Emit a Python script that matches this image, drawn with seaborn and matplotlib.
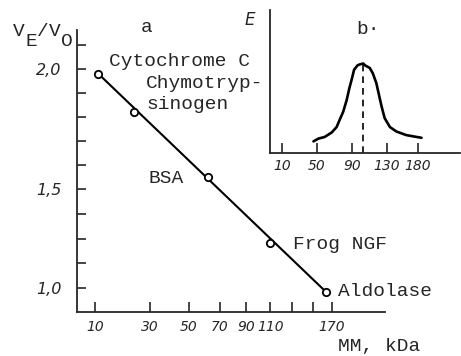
import numpy as np
import matplotlib
matplotlib.use('Agg')
import matplotlib.pyplot as plt
import seaborn as sns

# panel a: calibration proteins
proteins = ['Cytochrome C', 'Chymotryp-\nsinogen', 'BSA', 'Frog NGF', 'Aldolase']
mm_kda = [11, 23, 62, 110, 164]
ve_vo = [1.98, 1.82, 1.55, 1.23, 0.98]

# panel b: elution profile
prof_mm = [46, 51.5, 59, 67, 72.5, 76, 80, 84, 87, 90, 92.5, 96.5, 99, 103,
           105, 110.5, 114, 118, 121, 124, 127.5, 135, 145.5, 161.5, 177.5, 186]
prof_e = [0.13, 0.16, 0.18, 0.23, 0.29, 0.37, 0.46, 0.59, 0.72, 0.83, 0.93,
          0.98, 0.99, 1.0, 0.98, 0.95, 0.89, 0.78, 0.65, 0.52, 0.39, 0.29,
          0.24, 0.20, 0.18, 0.17]
peak_mm = 103

a_xticks = [10, 30, 50, 70, 90, 110, 130, 150, 170]
a_xlabels = ['10', '30', '50', '70', '90', '110', '', '', '170']
a_yticks = [2.1, 2.0, 1.9, 1.8, 1.7, 1.6, 1.5, 1.375, 1.25, 1.125, 1.0]
a_ylabels = ['', '2,0', '', '', '', '', '1,5', '', '', '', '1,0']
b_xticks = [10, 50, 90, 130, 180]
b_xlabels = ['10', '50', '90', '130', '180']

sns.set_style('ticks')
plt.rcParams['font.family'] = ['DejaVu Sans']
MONO = 'Liberation Mono'


# axis scales as drawn in the original (sqrt MM, uneven V/V0 spacing)
def sq_fwd(x):
    return np.sqrt(np.clip(np.asarray(x, float), 0, None))


def sq_inv(v):
    return np.square(v)


def ya_fwd(y):
    y = np.asarray(y, float)
    return np.where(y >= 1.5, y, 1.5 - (1.5 - y) * 0.825)


def ya_inv(v):
    v = np.asarray(v, float)
    return np.where(v >= 1.5, v, 1.5 - (1.5 - v) / 0.825)


def xb_fwd(x):
    x = np.asarray(x, float)
    return np.where(x <= 130, x, 130 + (x - 130) * 0.709)


def xb_inv(v):
    v = np.asarray(v, float)
    return np.where(v <= 130, v, 130 + (v - 130) / 0.709)


fig = plt.figure(figsize=(4.61, 3.56), dpi=100)

# ---- panel a
ax = fig.add_axes([0.167, 0.1236, 0.668, 0.792])
sns.lineplot(x=[mm_kda[0], mm_kda[-1]], y=[ve_vo[0], ve_vo[-1]], ax=ax,
             color='black', linewidth=1.5)
sns.scatterplot(x=mm_kda, y=ve_vo, ax=ax, marker='o', s=28, facecolor='white',
                edgecolor='black', linewidth=1.3, zorder=3)
ax.set_xscale('function', functions=(sq_fwd, sq_inv))
ax.set_yscale('function', functions=(ya_fwd, ya_inv))
ax.set_xlim(5.87, 232.8)
ax.set_ylim(0.879, 2.1625)
ax.set_xticks(a_xticks)
ax.set_xticklabels(a_xlabels, fontstyle='italic', fontsize=10)
ax.set_yticks(a_yticks)
ax.set_yticklabels(a_ylabels, fontstyle='italic', fontsize=11.5)
ax.minorticks_off()
ax.tick_params(axis='x', direction='in', length=7, width=1.2, pad=6)
ax.tick_params(axis='y', direction='in', length=6.5, width=1.2, pad=11)
for s in ['top', 'right']:
    ax.spines[s].set_visible(False)
for s in ['left', 'bottom']:
    ax.spines[s].set_linewidth(1.3)
ax.set_xlabel('')
ax.set_ylabel('')

offsets = [(11, 12, 'left'), (12, 18, 'left'), (-24, -1, 'right'),
           (23, -2, 'left'), (12, 1, 'left')]
for name, x, y, (dx, dy, ha) in zip(proteins, mm_kda, ve_vo, offsets):
    ax.annotate(name, xy=(x, y), xytext=(dx, dy), textcoords='offset pixels',
                ha=ha, va='center', fontfamily=MONO, fontsize=14,
                linespacing=1.3)

# ---- panel b (inset)
ax2 = fig.add_axes([0.5857, 0.5702, 0.412, 0.4017], facecolor='none')
sns.lineplot(x=prof_mm, y=prof_e, ax=ax2, color='black', linewidth=1.9,
             sort=False)
ax2.vlines(peak_mm, 0, max(prof_e), colors='black', linestyles=(0, (4, 3)),
           linewidth=1.2)
ax2.set_xscale('function', functions=(xb_fwd, xb_inv))
ax2.set_xlim(-3.7, 248)
ax2.set_ylim(0, 1.598)
ax2.set_xticks(b_xticks)
ax2.set_xticklabels(b_xlabels, fontstyle='italic', fontsize=10)
ax2.minorticks_off()
ax2.set_yticks([])
ax2.tick_params(axis='x', direction='in', length=7, width=1.2, pad=4)
for s in ['top', 'right']:
    ax2.spines[s].set_visible(False)
for s in ['left', 'bottom']:
    ax2.spines[s].set_linewidth(1.3)
ax2.set_xlabel('')
ax2.set_ylabel('')

# ---- labels
W, H = 461, 356


def ftext(px, py, s, **kw):
    fig.text(px / W, 1 - py / H, s, va='center', **kw)


# V_E/V_O drawn glyph by glyph so the subscripts keep full size
for px, py, ch in [(13, 32, 'V'), (25, 42, 'E'), (37, 32, '/'),
                   (49, 32, 'V'), (61, 42, 'O')]:
    ftext(px, py, ch, fontfamily=MONO, fontsize=14)
ftext(147, 28, 'a', fontfamily=MONO, fontsize=14, ha='center')
ftext(356, 30, 'b·', fontfamily=MONO, fontsize=14)
ftext(250, 20, 'E', fontstyle='italic', fontsize=12, ha='center')
ftext(338, 346, 'MM, kDa', fontfamily=MONO, fontsize=14)

fig.savefig('out.png', dpi=100)
